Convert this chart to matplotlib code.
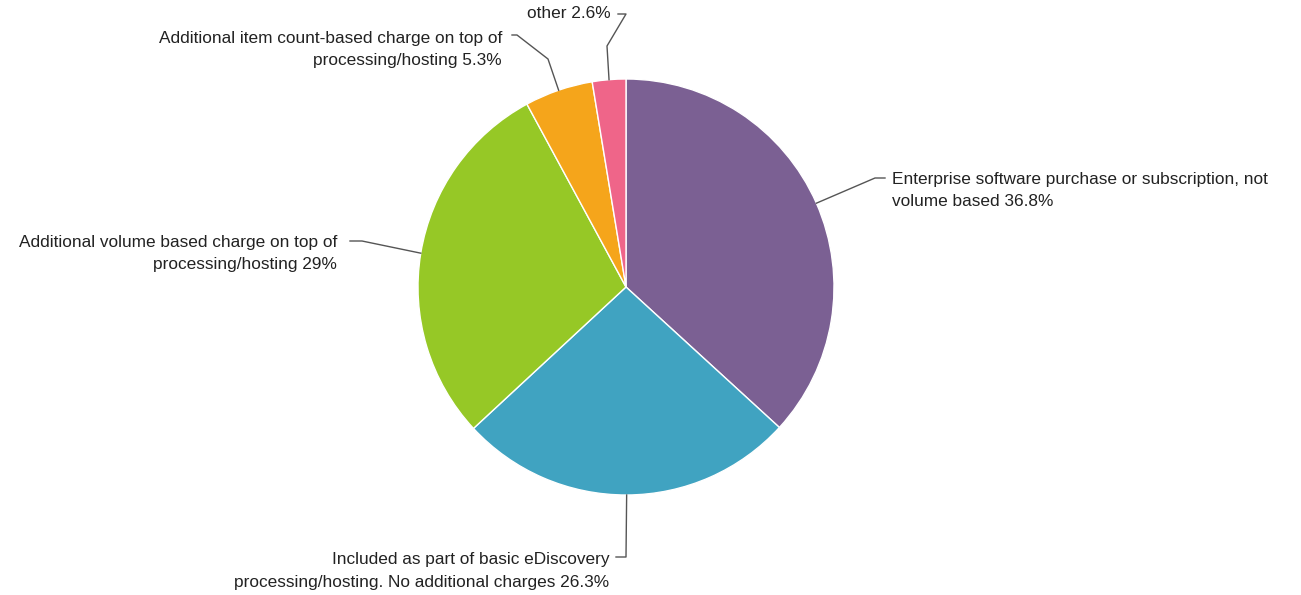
import matplotlib.pyplot as plt
import numpy as np

# data
names = ['Enterprise software purchase or subscription, not\nvolume based',
         'Included as part of basic eDiscovery\nprocessing/hosting. No additional charges',
         'Additional volume based charge on top of\nprocessing/hosting',
         'Additional item count-based charge on top of\nprocessing/hosting',
         'other']
values = [36.8, 26.3, 29, 5.3, 2.6]
colors = ['#7b6093', '#40a3c1', '#96c826', '#f5a51b', '#ef6589']

W, H = 1301, 595
cx, cy, rad = 626, 287, 208

def py(y):
    return H - y

# label layout (pixel coords): text x, text center y, align, leader waypoints after the anchor
layout = [
    (892, 190.5, 'left',  [(875, 178), (885, 178)]),
    (609, 571,   'right', [(626, 557), (616, 557)]),
    (337, 253.5, 'right', [(362, 241), (350, 241)]),
    (502, 49.5,  'right', [(548, 59), (517, 35), (512, 35)]),
    (611, 14,    'right', [(607, 46), (626, 14), (618, 14)]),
]

plt.rcParams['font.family'] = ['Liberation Sans', 'DejaVu Sans']

fig = plt.figure(figsize=(W / 100, H / 100), dpi=100)
ax = fig.add_axes([0, 0, 1, 1])

wedges, _ = ax.pie(values, colors=colors, startangle=90, counterclock=False,
                   center=(cx, py(cy)), radius=rad, frame=True,
                   wedgeprops=dict(edgecolor='white', linewidth=1))
ax.set_xlim(0, W)
ax.set_ylim(0, H)
ax.set_aspect('equal')
ax.axis('off')

for w, name, val, (tx, ty, ha, pts) in zip(wedges, names, values, layout):
    ang = np.deg2rad((w.theta1 + w.theta2) / 2)
    ax0 = cx + rad * np.cos(ang)
    ay0 = py(cy) + rad * np.sin(ang)
    xs = [ax0] + [p[0] for p in pts]
    ys = [ay0] + [py(p[1]) for p in pts]
    ax.plot(xs, ys, color='#555555', lw=1)
    ax.text(tx, py(ty), f'{name} {val:g}%', ha=ha, va='center',
            multialignment=ha, fontsize=12.4, color='#222222', linespacing=1.6)

fig.savefig('out.png', dpi=100)
